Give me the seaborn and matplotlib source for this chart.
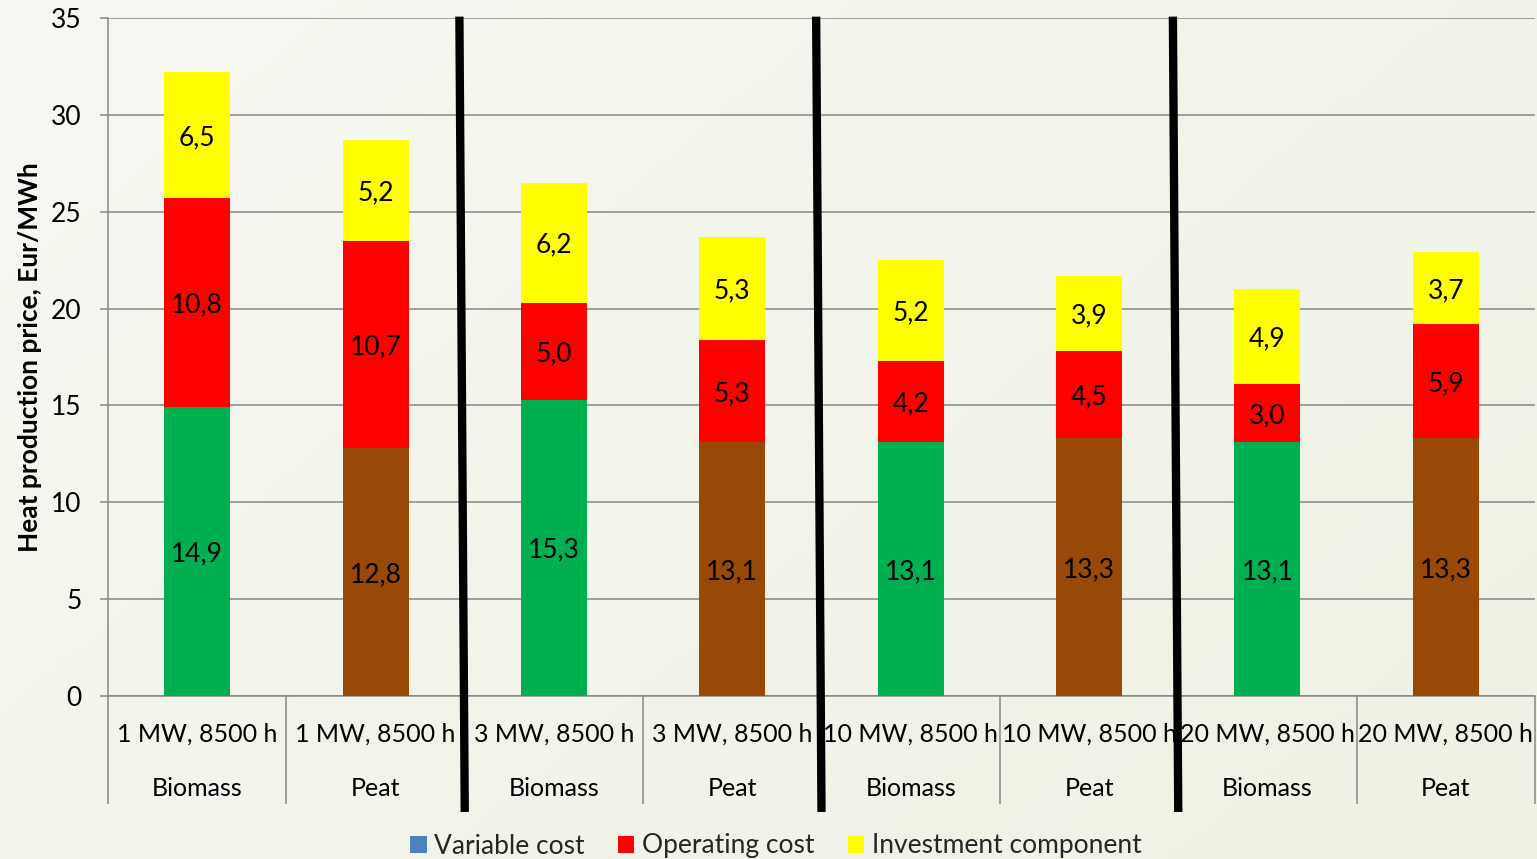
import numpy as np
import pandas as pd
import matplotlib
matplotlib.use("Agg")
import matplotlib.pyplot as plt
import matplotlib.transforms as mtransforms
from matplotlib.patches import Patch
import seaborn as sns

# ---------------- data ----------------
capacity = ["1 MW, 8500 h", "1 MW, 8500 h", "3 MW, 8500 h", "3 MW, 8500 h",
            "10 MW, 8500 h", "10 MW, 8500 h", "20 MW, 8500 h", "20 MW, 8500 h"]
fuel = ["Biomass", "Peat", "Biomass", "Peat", "Biomass", "Peat", "Biomass", "Peat"]
variable_cost = [14.9, 12.8, 15.3, 13.1, 13.1, 13.3, 13.1, 13.3]
operating_cost = [10.8, 10.7, 5.0, 5.3, 4.2, 4.5, 3.0, 5.9]
investment_component = [6.5, 5.2, 6.2, 5.3, 5.2, 3.9, 4.9, 3.7]
legend_labels = ["Variable cost", "Operating cost", "Investment component"]
y_ticks = [0, 5, 10, 15, 20, 25, 30, 35]
y_label = "Heat production price, Eur/MWh"

# ---------------- styling ----------------
sns.set_theme(style="white")
plt.rcParams["font.family"] = ["Lato", "DejaVu Sans"]

FS = 19
XFS = 18
GRID = "#878787"
BASE_COLORS = {"Biomass": "#00b050", "Peat": "#984807"}
RED = "#ff0000"
YELLOW = "#ffff00"
LEGEND_BLUE = "#4f81bd"

keys = [f"{c}\n{f}" for c, f in zip(capacity, fuel)]
df = pd.DataFrame({
    "key": keys,
    "fuel": fuel,
    "base": variable_cost,
    "oper": operating_cost,
    "inv": investment_component,
})
df["lvl2"] = df["base"] + df["oper"]
df["lvl3"] = df["lvl2"] + df["inv"]

W, H = 1537, 859
fig = plt.figure(figsize=(W / 100, H / 100), dpi=100)

# gradient background
bg = fig.add_axes([0, 0, 1, 1], zorder=-10)
gx = np.linspace(0, 1, 200)
gy = np.linspace(0, 1, 120)
GX, GY = np.meshgrid(gx, gy)
t = np.clip(0.6 * GX + 0.4 * GY, 0, 1)
c0 = np.array([0xf7, 0xf8, 0xf2]) / 255
c1 = np.array([0xee, 0xf1, 0xe3]) / 255
img = c0[None, None, :] * (1 - t[..., None]) + c1[None, None, :] * t[..., None]
bg.imshow(img, aspect="auto", extent=[0, 1, 0, 1], origin="upper")
bg.set_axis_off()

ax = fig.add_axes([108 / W, 1 - 696 / H, (1535 - 108) / W, (696 - 18) / H])
ax.set_facecolor("none")

bw = 0.37
# stacked bars drawn as cumulative layers, top layer first
sns.barplot(data=df, x="key", y="lvl3", color=YELLOW, width=bw, ax=ax,
            saturation=1, linewidth=0, zorder=3)
sns.barplot(data=df, x="key", y="lvl2", color=RED, width=bw, ax=ax,
            saturation=1, linewidth=0, zorder=3)
sns.barplot(data=df, x="key", y="base", hue="fuel", palette=BASE_COLORS,
            dodge=False, legend=False, width=bw, ax=ax, saturation=1,
            linewidth=0, zorder=3)

# value labels
def fmt(v):
    return f"{v:.1f}".replace(".", ",")

for i, r in df.iterrows():
    for yc, v in [(r["base"] / 2, r["base"]),
                  (r["base"] + r["oper"] / 2, r["oper"]),
                  (r["lvl2"] + r["inv"] / 2, r["inv"])]:
        ax.text(i, yc, fmt(v), ha="center", va="center_baseline",
                fontsize=FS, color="black", zorder=5)

# axes
n = len(keys)
ax.set_xlim(-0.5, n - 0.5)
ax.set_ylim(0, 35)
ax.set_yticks(y_ticks)
ax.set_yticklabels([str(v) for v in y_ticks])
ax.yaxis.grid(True, color=GRID, linewidth=1.1, zorder=0)
ax.set_axisbelow(True)
ax.tick_params(axis="y", which="major", length=6, width=1.1, color=GRID,
               direction="out", left=True, pad=13, labelsize=FS, labelcolor="black")

ax.set_xticks(np.arange(-0.5, n, 1.0))
ax.set_xticklabels([""] * (n + 1))
ax.set_xticks(np.arange(n), minor=True)
ax.set_xticklabels(capacity, minor=True)
ax.tick_params(axis="x", which="major", length=78, width=1.1, color=GRID,
               direction="out", bottom=True)
ax.tick_params(axis="x", which="minor", length=0, pad=19, labelsize=XFS,
               labelcolor="black")
ax.set_xlabel("")

xt = mtransforms.blended_transform_factory(ax.transData, ax.transAxes)
for i, f in enumerate(fuel):
    ax.text(i, (696 - 788) / 678, f, transform=xt, ha="center", va="center",
            fontsize=XFS, color="black")

for s in ["top", "right"]:
    ax.spines[s].set_visible(False)
for s in ["left", "bottom"]:
    ax.spines[s].set_color(GRID)
    ax.spines[s].set_linewidth(1.1)

ax.set_ylabel(y_label, fontsize=FS, fontweight="bold", color="black")
ax.yaxis.set_label_coords((42 - 108) / 1427, 0.5)

# thick black group separators
for b in [1.5, 3.5, 5.5]:
    ax.plot([b - 0.03, b], [1.002, -0.171], transform=xt, color="black",
            linewidth=6, solid_capstyle="butt", clip_on=False, zorder=6)

# legend
handles = [Patch(facecolor=LEGEND_BLUE, edgecolor="none"),
           Patch(facecolor=RED, edgecolor="none"),
           Patch(facecolor=YELLOW, edgecolor="none")]
fig.legend(handles, legend_labels, loc="center",
           bbox_to_anchor=(776 / W, 1 - 846 / H), ncol=3, frameon=False,
           fontsize=FS, handlelength=0.62, handleheight=0.62,
           handletextpad=0.3, columnspacing=1.25)

fig.savefig("out.png", dpi=100)
